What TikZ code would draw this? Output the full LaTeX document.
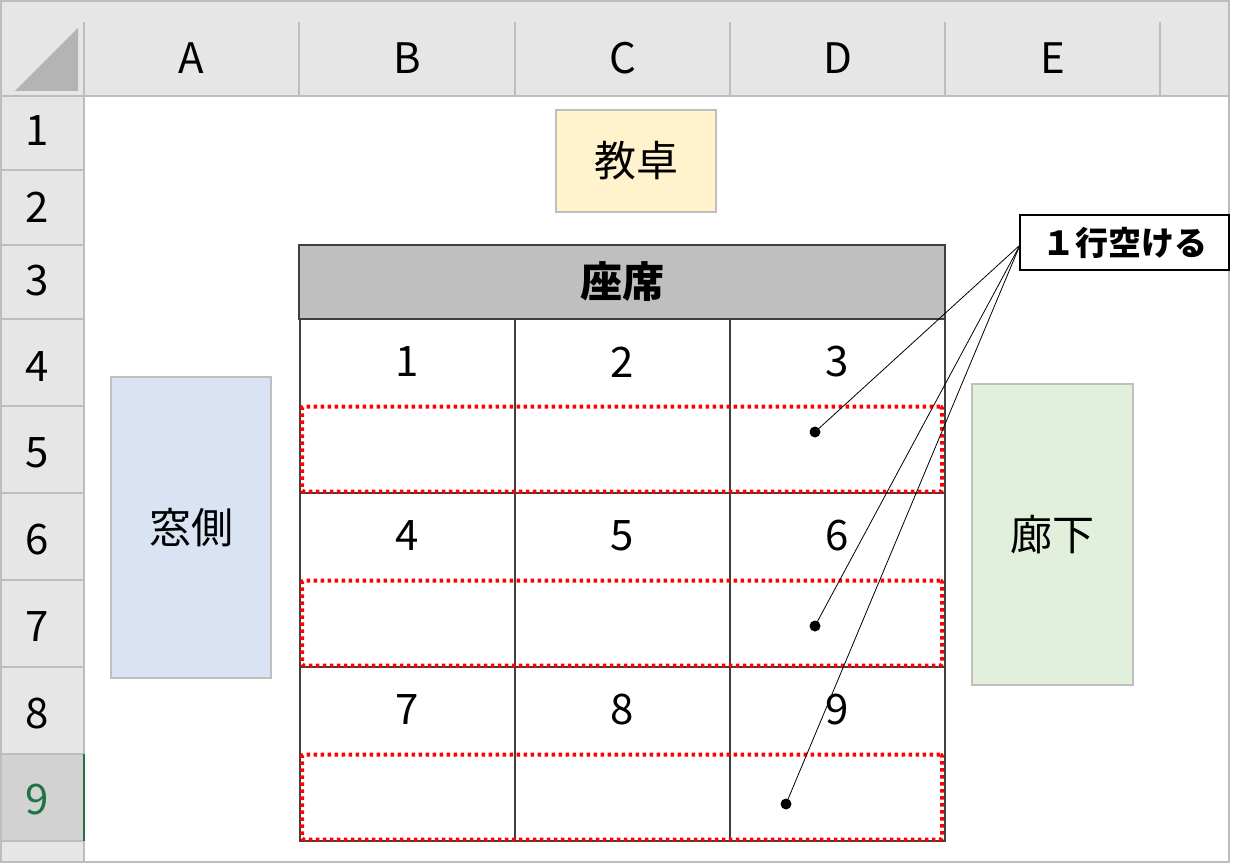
\documentclass[tikz,border=0pt]{standalone}
\usepackage{fontspec}
\setmainfont{Noto Sans CJK JP}
\definecolor{hdrgray}{HTML}{E6E6E6}
\definecolor{selgray}{HTML}{D2D2D2}
\definecolor{sepgray}{HTML}{BDBDBD}
\definecolor{trigray}{HTML}{B4B4B4}
\definecolor{xlgreen}{HTML}{217346}
\definecolor{tblline}{HTML}{404040}
\definecolor{seathdr}{HTML}{BFBFBF}
\definecolor{deskfill}{HTML}{FFF2CC}
\definecolor{winfill}{HTML}{DAE3F3}
\definecolor{hallfill}{HTML}{E2EFDA}
\definecolor{boxline}{HTML}{BFBFBF}
\tikzset{
  hlabel/.style={font=\fontsize{42}{48}\selectfont, text=black, inner sep=0pt},
  sepline/.style={draw=sepgray, line width=1.5pt},
  areabox/.style={draw=boxline, line width=2pt, font=\fontsize{42}{48}\selectfont, inner sep=0pt},
  cellbox/.style={draw=tblline, line width=2pt, minimum width=215pt, minimum height=174pt, inner sep=0pt},
  seatnum/.style={font=\fontsize{42}{48}\selectfont, inner sep=0pt},
  reddot/.style={draw=red, line width=4pt, dash pattern=on 3.5pt off 3.5pt, rounded corners=2pt, minimum width=640pt, minimum height=85pt, inner sep=0pt},
  leader/.style={draw=black, line width=0.8pt},
  pin/.style={circle, fill=black, minimum size=11pt, inner sep=0pt}
}
\begin{document}
\begin{tikzpicture}[x=1pt,y=-1pt]
\useasboundingbox (0,0) rectangle (1240,864);
% header backgrounds
\fill[hdrgray] (0,0) rectangle (1229,96);
\fill[hdrgray] (0,96) rectangle (84,862);
\fill[selgray] (0,754) rectangle (84,841);
\fill[trigray] (15,91) -- (78,28) -- (78,91) -- cycle;
% separators
\foreach \xx in {84,299,515,730,945,1160} \draw[sepline] (\xx,22) -- (\xx,96);
\draw[sepline] (0,96) -- (1229,96);
\draw[sepline] (84,96) -- (84,862);
\foreach \yy in {170,245,319,406,493,580,667,754,841} \draw[sepline] (0,\yy) -- (84,\yy);
\draw[xlgreen, line width=2pt] (84,754) -- (84,841);
% column labels
\node[hlabel] (colA) at (191.5,58) {A};
\node[hlabel] (colB) at (407,58) {B};
\node[hlabel] (colC) at (622.5,58) {C};
\node[hlabel] (colD) at (837.5,58) {D};
\node[hlabel] (colE) at (1052.5,58) {E};
% row labels
\node[hlabel] (row1) at (37,131) {1};
\node[hlabel] (row2) at (37,207) {2};
\node[hlabel] (row3) at (37,281) {3};
\node[hlabel] (row4) at (37,367) {4};
\node[hlabel] (row5) at (37,453) {5};
\node[hlabel] (row6) at (37,540) {6};
\node[hlabel] (row7) at (37,627) {7};
\node[hlabel] (row8) at (37,714) {8};
\node[hlabel, text=xlgreen] (row9) at (37,800) {9};
\begin{scope}
\clip (0,841) rectangle (84,862);
\node[hlabel] (row10) at (37,887) {10};
\end{scope}
% outer border
\draw[sepgray, line width=2pt] (1,1) rectangle (1229,862);
% side boxes
\node[areabox, fill=deskfill, minimum width=160pt, minimum height=102pt] (desk) at (636,161) {教卓};
\node[areabox, fill=winfill, minimum width=160pt, minimum height=301pt] (window) at (191,527.5) {窓側};
\node[areabox, fill=hallfill, minimum width=161pt, minimum height=301pt] (hall) at (1052.5,534.5) {廊下};
% seat table
\node[draw=tblline, line width=2pt, fill=seathdr, minimum width=646pt, minimum height=74pt, inner sep=0pt, font=\bfseries\fontsize{42}{48}\selectfont] (seathead) at (622,282) {座席};
\foreach \cx/\cn in {407/a,622.5/b,837.5/c}{
  \node[cellbox] (cell1\cn) at (\cx,406) {};
  \node[cellbox] (cell2\cn) at (\cx,580) {};
  \node[cellbox] (cell3\cn) at (\cx,754) {};
}
\node[seatnum] (s1) at (407,362) {1};
\node[seatnum] (s2) at (622.5,362) {2};
\node[seatnum] (s3) at (837.5,362) {3};
\node[seatnum] (s4) at (407,536) {4};
\node[seatnum] (s5) at (622.5,536) {5};
\node[seatnum] (s6) at (837.5,536) {6};
\node[seatnum] (s7) at (407,710) {7};
\node[seatnum] (s8) at (622.5,710) {8};
\node[seatnum] (s9) at (837.5,710) {9};
% empty rows
\node[reddot] (gap1) at (622,449) {};
\node[reddot] (gap2) at (622,623) {};
\node[reddot] (gap3) at (622,797) {};
% callout
\node[draw=black, line width=1.5pt, fill=white, minimum width=209pt, minimum height=55pt, inner sep=0pt, font=\bfseries\fontsize{33}{38}\selectfont] (note) at (1124.5,242.5) {１行空ける};
\coordinate (notefoot) at (1020,245);
\node[pin] (p1) at (815,432) {};
\node[pin] (p2) at (815,626) {};
\node[pin] (p3) at (786,804) {};
\draw[leader] (notefoot) -- (p1.center);
\draw[leader] (notefoot) -- (p2.center);
\draw[leader] (notefoot) -- (p3.center);
\end{tikzpicture}
\end{document}
